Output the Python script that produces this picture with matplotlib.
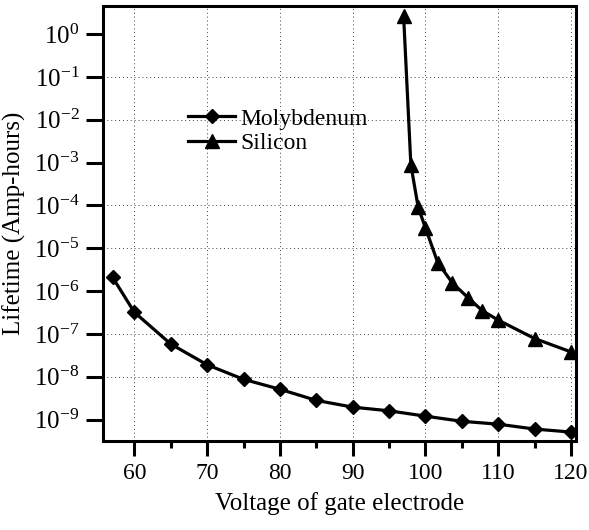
import matplotlib
matplotlib.use("Agg")
import matplotlib.pyplot as plt
from matplotlib.ticker import FixedLocator, FixedFormatter

# Data (voltage vs lifetime)
mo_voltage = [57, 60, 65, 70, 75, 80, 85, 90, 95, 100, 105, 110, 115, 120]
mo_lifetime = [2.1e-6, 3.2e-7, 5.8e-8, 1.9e-8, 8.7e-9, 5.1e-9, 2.8e-9,
               1.95e-9, 1.6e-9, 1.2e-9, 9.1e-10, 7.8e-10, 6.0e-10, 5.1e-10]

si_voltage = [97, 98, 99, 100, 101.7, 103.7, 105.9, 107.8, 110, 115, 120]
si_lifetime = [2.7, 8.9e-4, 9.1e-5, 3.0e-5, 4.6e-6, 1.55e-6, 6.9e-7,
               3.5e-7, 2.1e-7, 7.8e-8, 3.8e-8]

x_ticks = [60, 70, 80, 90, 100, 110, 120]
x_minor = [65, 75, 85, 95, 105, 115]
y_ticks = [1, 1e-1, 1e-2, 1e-3, 1e-4, 1e-5, 1e-6, 1e-7, 1e-8, 1e-9]
y_labels = ["$10^{0}$", "$10^{-1}$", "$10^{-2}$", "$10^{-3}$", "$10^{-4}$",
            "$10^{-5}$", "$10^{-6}$", "$10^{-7}$", "$10^{-8}$", "$10^{-9}$"]
hidden_grid = [0, 3, 6, 9]  # gridlines that are not visible in the original

plt.rcParams["font.family"] = "Liberation Serif"
plt.rcParams["mathtext.fontset"] = "custom"
plt.rcParams["mathtext.rm"] = "Liberation Serif"
plt.rcParams["mathtext.it"] = "Liberation Serif"

fig = plt.figure(figsize=(5.89, 5.30), dpi=100)
ax = fig.add_axes([0.175, 0.168, 0.803, 0.821])

ax.plot(mo_voltage, mo_lifetime, color="black", lw=2.3, marker="D",
        ms=7.5, label="Molybdenum")
ax.plot(si_voltage, si_lifetime, color="black", lw=2.3, marker="^",
        ms=9.5, label="Silicon")

ax.set_yscale("log")
ax.set_xlim(55.7, 120.7)
ax.set_ylim(10 ** -9.5, 10 ** 0.66)

ax.xaxis.set_major_locator(FixedLocator(x_ticks))
ax.xaxis.set_minor_locator(FixedLocator(x_minor))
ax.yaxis.set_major_locator(FixedLocator(y_ticks))
ax.yaxis.set_major_formatter(FixedFormatter(y_labels))
ax.yaxis.set_minor_locator(FixedLocator([]))

ax.tick_params(axis="x", which="major", direction="out", length=11, width=2.2,
               labelsize=17, pad=5)
ax.tick_params(axis="x", which="minor", direction="out", length=5, width=2.2)
ax.tick_params(axis="y", which="major", direction="out", length=12, width=2.2,
               labelsize=18, pad=5)

for sp in ax.spines.values():
    sp.set_linewidth(2.2)

ax.grid(True, which="major", color="0.25", linestyle=(0, (1, 3)), lw=0.7)
for i in hidden_grid:
    ax.yaxis.get_gridlines()[i].set_visible(False)

ax.set_xlabel("Voltage of gate electrode", fontsize=18, labelpad=6)
ax.set_ylabel("Lifetime (Amp-hours)", fontsize=18, labelpad=6)

ax.legend(loc="upper left", bbox_to_anchor=(0.18, 0.765), frameon=False,
          fontsize=17, handlelength=2.0, handletextpad=0.2,
          labelspacing=0.12, borderpad=0, borderaxespad=0)

fig.savefig("out.png", dpi=100)
